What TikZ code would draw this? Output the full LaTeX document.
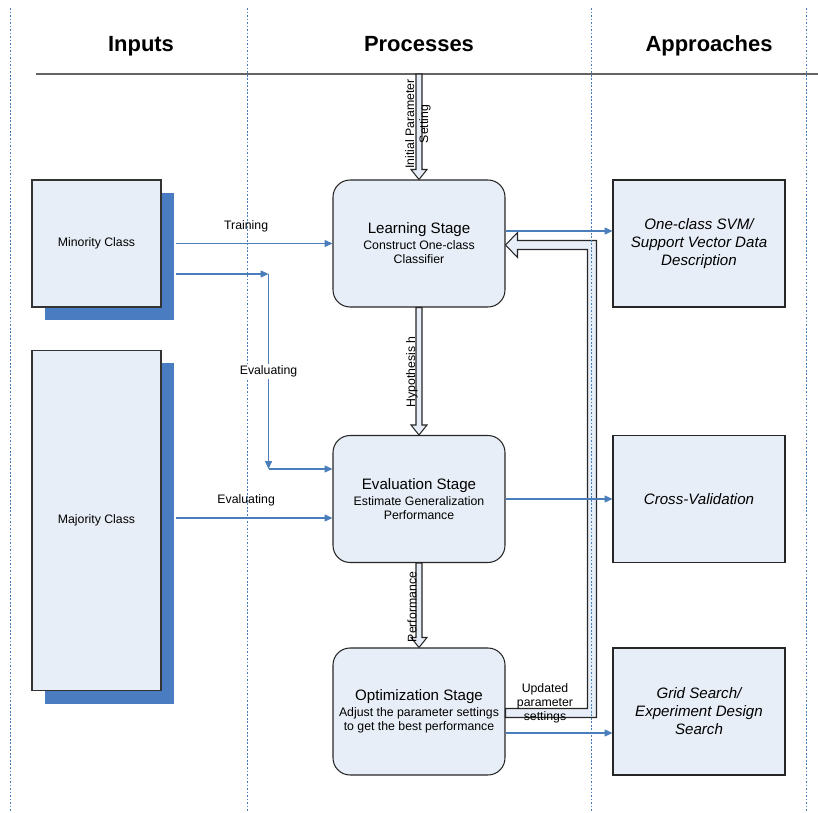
\documentclass[tikz,border=0pt]{standalone}
\usepackage{fontspec}
\setmainfont{Liberation Sans}
\usetikzlibrary{arrows.meta,calc,shadows}
\definecolor{boxfill}{RGB}{232,238,247}
\definecolor{shadowblue}{RGB}{74,124,194}
\definecolor{flowblue}{RGB}{74,126,187}
\definecolor{rulegray}{RGB}{100,100,100}

\begin{document}
\begin{tikzpicture}[x=0.02cm,y=-0.02cm]
        \tikzstyle{input}=[draw=black!80, fill=boxfill, line width=0.6pt, minimum width=2.58cm, inner sep=0pt,
            drop shadow={fill=shadowblue, opacity=1, shadow xshift=0.26cm, shadow yshift=-0.26cm},
            font=\fontsize{7}{8}\selectfont]
        \tikzstyle{stage}=[draw=black!85, fill=boxfill, line width=0.6pt, rounded corners=0.34cm,
            minimum width=3.44cm, minimum height=2.54cm, align=center, font=\fontsize{7}{8}\selectfont]
        \tikzstyle{approach}=[draw=black!85, fill=boxfill, line width=0.6pt, minimum width=3.44cm,
            minimum height=2.54cm, align=center, font=\fontsize{8.6}{10.2}\selectfont\itshape]
        \tikzstyle{flow}=[draw=flowblue, line width=0.6pt, -{Triangle[length=4.5pt,width=4pt]}]
        \tikzstyle{block}=[draw=black!85, fill=boxfill, line width=0.6pt]
        \tikzstyle{lane}=[draw=flowblue, line width=0.4pt, dash pattern=on 1pt off 1pt]
        \tikzstyle{lbl}=[font=\fontsize{7}{8}\selectfont]
        \tikzstyle{head}=[font=\fontsize{12.5}{14}\selectfont\bfseries, anchor=base]

        \useasboundingbox (0,0) rectangle (818,813);

        % headers
        \node[head] (inputs) at (141,52) {Inputs};
        \node[head] (processes) at (419,52) {Processes};
        \node[head] (approaches) at (709,52) {Approaches};
        \coordinate (top) at (419,74);
        \draw[rulegray, line width=1pt] (36,74) -- (818,74);

        % inputs
        \node[input, minimum height=2.54cm] (minority) at (96.5,243.5) {Minority Class};
        \node[input, minimum height=6.82cm] (majority) at (96.5,520.5) {Majority Class};

        % processes
        \node[stage] (learn) at (419,243.5) {{\fontsize{8.6}{10}\selectfont Learning Stage}\\[1pt]Construct One-class\\Classifier};
        \node[stage] (eval) at (419,499) {{\fontsize{8.6}{10}\selectfont Evaluation Stage}\\[1pt]Estimate Generalization\\Performance};
        \node[stage] (opt) at (419,711.5) {{\fontsize{8.6}{10}\selectfont Optimization Stage}\\[1pt]Adjust the parameter settings\\to get the best performance};

        % approaches
        \node[approach] (svm) at (699,243.5) {One-class SVM/\\Support Vector Data\\Description};
        \node[approach] (cv) at (699,499) {Cross-Validation};
        \node[approach] (grid) at (699,711.5) {Grid Search/\\Experiment Design\\Search};

        % feedback loop
        \coordinate (ret) at (592,0);
        \draw[block] ($(opt.east)+(0,-3)$) -- ($(ret |- opt.east)+(-4.5,-3)$) -- ($(ret |- learn.east)+(-4.5,6)$)
            -- ($(learn.east)+(12,6)$) -- ($(learn.east)+(12,14)$) -- ($(learn.east)+(0,1.5)$)
            -- ($(learn.east)+(12,-11)$) -- ($(learn.east)+(12,-3)$) -- ($(ret |- learn.east)+(4.5,-3)$)
            -- ($(ret |- opt.east)+(4.5,6)$) -- ($(opt.east)+(0,6)$) -- cycle;
        \node[lbl, align=center] (upd) at (545,703) {Updated\\parameter\\settings};

        % lanes
        \draw[lane] (10,8) -- (10,813);
        \draw[lane] (247,8) -- (247,813);
        \draw[lane] (591,8) -- (591,813);
        \draw[lane] (806,8) -- (806,813);

        % stage to stage
        \draw[block] ($(top)+(-3,0)$) -- ($(learn.north)+(-3,-10)$) -- ($(learn.north)+(-8,-10)$) -- (learn.north)
            -- ($(learn.north)+(8,-10)$) -- ($(learn.north)+(3,-10)$) -- ($(top)+(3,0)$) -- cycle;
        \draw[block] ($(learn.south)+(-3,0)$) -- ($(eval.north)+(-3,-10)$) -- ($(eval.north)+(-8,-10)$) -- (eval.north)
            -- ($(eval.north)+(8,-10)$) -- ($(eval.north)+(3,-10)$) -- ($(learn.south)+(3,0)$) -- cycle;
        \draw[block] ($(eval.south)+(-3,0)$) -- ($(opt.north)+(-3,-10)$) -- ($(opt.north)+(-8,-10)$) -- (opt.north)
            -- ($(opt.north)+(8,-10)$) -- ($(opt.north)+(3,-10)$) -- ($(eval.south)+(3,0)$) -- cycle;
        \node[lbl, rotate=90, align=center] at (418,124) {Initial Parameter\\Setting};
        \node[lbl, rotate=90] at (412,372) {Hypothesis h};
        \node[lbl, rotate=90] at (412,607) {Performance};

        % inputs to stages
        \draw[flow] ($(minority.east)+(14,0)$) -- (learn.west) node[lbl, pos=0.45, above=3pt] {Training};
        \coordinate (split) at ($(minority.east)+(107,30.5)$);
        \coordinate (merge) at ($(eval.west)+(0,-30)$);
        \draw[flow] ($(minority.east)+(14,30.5)$) -- (split);
        \draw[flow] (split) -- (split |- merge) node[lbl, midway, fill=white, inner sep=1pt] {Evaluating};
        \draw[flow] (split |- merge) -- (merge);
        \draw[flow] ($(majority.east)+(14,-2.5)$) -- ($(eval.west)+(0,19)$) node[lbl, pos=0.45, above=3pt] {Evaluating};

        % stages to approaches
        \draw[flow] ($(learn.east)+(0,-12.5)$) -- ($(svm.west)+(0,-12.5)$);
        \draw[flow] (eval.east) -- (cv.west);
        \draw[flow] ($(opt.east)+(0,21.5)$) -- ($(grid.west)+(0,21.5)$);
    \end{tikzpicture}
\end{document}
